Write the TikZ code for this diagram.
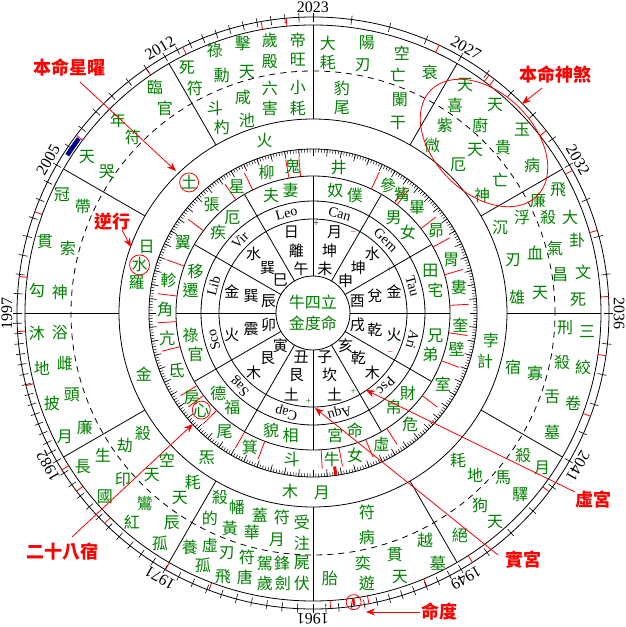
\documentclass[tikz,border=0pt]{standalone}
\usepackage{fontspec}
\setmainfont{Liberation Serif}
\newfontfamily\cjk{Noto Sans CJK TC}
\usetikzlibrary{arrows.meta}
\definecolor{grn}{RGB}{0,128,0}
\definecolor{rd}{RGB}{255,0,0}
\definecolor{bl}{RGB}{0,0,150}
\tikzset{
 gt/.style={text=grn, inner sep=0pt, font=\cjk\fontsize{16}{16}\selectfont},
 bt/.style={text=black, inner sep=0pt, font=\cjk\fontsize{15}{15}\selectfont},
 zd/.style={inner sep=0pt, font=\fontsize{14}{14}\selectfont},
 yr/.style={inner sep=0pt, font=\fontsize{16}{16}\selectfont},
 ann/.style={text=rd, inner sep=0pt, font=\cjk\bfseries\fontsize{18}{18}\selectfont},
 arr/.style={rd, line width=0.8pt, -{Stealth[length=9pt,width=7pt]}},
 mk/.style={inner sep=0pt, font=\fontsize{10}{10}\selectfont},
 ring/.style={line width=0.8pt},
 rdl/.style={rd, line width=0.8pt},
}
\def\mb{3.2,16.2,28.8,38,52.2,53.5,64.8,95.2,100.1,116.1,124.3,143.1,160,172.9,183.6,194.2,212,217,225.3,240.1,249.4,273.4,280.9,292.6,302.6,322.9,339.6,351.7}
\begin{document}
\begin{tikzpicture}[x=1pt,y=1pt]
\useasboundingbox (-313,-314) rectangle (313,313);
\fill[white] (-313,-314) rectangle (313,313);
% rings
\foreach \r in {37,94,112,137,164,194,288,296} \draw[ring] (0,0) circle (\r);
\draw[ring, dash pattern=on 6pt off 5pt] (0,0) circle (242);
\foreach \a in {0,30,...,330} {
  \draw[ring] (\a:37) -- (\a:137);
  \draw[ring] (\a:194) -- (\a:288);
}
% degree scale
\foreach \a in {0,1,...,359} \draw[line width=0.5pt] (\a:164) -- (\a:160.5);
\foreach \a in {0,5,...,355} \draw[line width=0.6pt] (\a:164) -- (\a:157);
% mansion boundaries
\foreach \a in \mb {
  \draw[rdl] (\a:137) -- (\a:156);
  \draw[rdl] (\a:288) -- (\a:296);
}
% year ticks
\foreach \s/\n in {90/4,60/5,30/4,0/5,-30/5,-60/12,-90/10,-120/11,-150/15,180/8,150/7,120/11}
  \foreach \j in {1,...,\n} \draw[line width=0.6pt] ({\s-30*(\j-1)/\n}:291) -- ({\s-30*(\j-1)/\n}:300);
\draw[bl, line width=4.5pt] (143.3:292) arc[start angle=143.3, end angle=147.3, radius=292];
\draw[rd, line width=2.5pt] (-82:288.5) -- (-82:295.5);
\draw[rd, line width=3pt] (-82:155) -- (-82:164);
\coordinate (md) at (-82:292);
\draw[rdl] (md) circle (7.5);
% year labels
\foreach \a/\y in {90/2023,60/2027,30/2032,0/2036,-30/2041,-60/1949,-90/1961,-120/1971,-150/1982,180/1997,150/2005,120/2012}
  \node[yr, rotate=\a-90] (y\y) at (\a:306) {\y};
% center
\node[gt, align=center, font=\cjk\fontsize{16}{21}\selectfont] (ctr) at (0,0) {牛四立\\金度命};
% inner ring
\foreach \a/\p/\g/\b [count=\k] in {105/日/離/午, 75/月/坤/未, 45/水/坤/申, 15/金/兌/酉, -15/火/乾/戌, -45/木/乾/亥, -75/土/坎/子, -105/土/艮/丑, -135/木/艮/寅, -165/火/震/卯, 165/金/巽/辰, 135/水/巽/巳} {
  \node[bt] (ip\k) at (\a:84) {\p};
  \node[bt] (ig\k) at (\a:64) {\g};
  \node[bt] (ib\k) at (\a:46) {\b};
}
% zodiac
\foreach \a/\t in {105/Leo, 75/Can, 45/Gem, 15/Tau, -15/Ari, -45/Psc, -75/Aqu, -105/Cap, -135/Sag, -165/Sco, 165/Lib, 135/Vir}
  \node[zd, rotate=\a-90] (z\t) at (\a:103) {\t};
\node[mk] (pm1) at (88:89) {+};
\node[mk, text=rd] (pm2) at (63.2:89) {−};
\node[mk, text=grn] (pm3) at (29.2:88) {+};
\node[mk, text=rd] (pm4) at (-27.6:87) {−};
\node[mk, text=grn] (pm5) at (-62.9:88) {+};
\node[mk, text=grn] (pm6) at (-93:89) {+};
% palace names
\foreach \a/\p/\q [count=\k] in {105/夫/妻, 75/奴/僕, 45/男/女, 15/田/宅, -15/兄/弟, -45/財/帛, -75/命/宮, -105/相/貌, -135/福/德, -165/官/祿, 165/遷/移, 135/疾/厄} {
  \node[gt] (pa\k) at ({\a+4.6}:124.5) {\p};
  \node[gt] (pb\k) at ({\a-4.6}:124.5) {\q};
}
% mansions
\foreach \a/\t [count=\k] in {80/井,97.8/鬼,108.3/柳,121/星,133.2/張,151.5/翼,167.2/軫,178.8/角,190/亢,202.8/氐,215/房,221/心,233.3/尾,244.8/箕,261.7/斗,277.3/牛,286.5/女,297.5/虛,311/危,331.4/室,346/壁,355.3/奎,9.8/婁,21.1/胃,33.7/昴,45.3/畢,53/觜,59.5/參}
  \node[gt] (m\k) at (\a:148) {\t};
% planets
\node[gt] (plHuo) at (105.7:179) {火};
\node[gt] (plTu) at (133.5:180) {土};
\node[gt] (plRi) at (158.3:179) {日};
\node[gt] (plShui) at (164.5:180) {水};
\node[gt] (plLuo) at (170.4:179) {羅};
\node[gt] (plJin) at (200:180) {金};
\node[gt] (plQi) at (233.8:180) {炁};
\node[gt] (plMu) at (262.7:180) {木};
\node[gt] (plYue) at (272.8:180) {月};
\node[gt] (plBo) at (-8.6:180) {孛};
\node[gt] (plJi) at (-15.8:179) {計};
\draw[rdl] (plTu) circle (9.5);
\draw[rdl] (plShui) circle (10);
\draw[rdl] (m12) circle (9);
% outer palace texts (pixel coordinates)
\begin{scope}[shift={(-313,313)}, yscale=-1]
\foreach \x/\y/\t [count=\k] in {
 328/43/大,328/62/耗,367/43/陽,363/65/刃,402/53/空,398/75/亡,342/88/豹,342/108/尾,400/100/闌,398/123/干,430/72/衰,
 298/40/帝,298/60/旺,298/88/小,298/108/耗,270/40/歲,270/62/殿,270/88/六,270/108/害,243/43/擊,247/72/天,243/97/咸,247/120/池,215/50/祿,222/75/勳,215/108/斗,222/127/杓,187/68/死,195/88/符,
 155/87/臨,165/108/官,118/120/年,133/137/符,87/157/天,107/172/哭,
 62/195/冠,83/207/帶,45/242/貫,68/248/索,37/290/勾,60/292/神,
 37/333/沐,60/333/浴,42/368/地,65/363/雌,52/403/披,72/395/頭,65/437/月,85/427/廉,
 83/467/長,103/455/生,143/433/殺,125/445/劫,105/497/國,123/480/印,152/475/天,167/460/空,132/522/紅,145/503/鸞,160/543/孤,172/523/辰,180/498/天,193/482/耗,
 220/497/殺,237/507/幡,210/518/的,230/528/黃,210/545/虛,227/553/刃,190/547/養,203/565/孤,223/577/飛,245/577/唐,265/583/歲,283/583/劍,302/583/伏,302/563/屍,282/563/鋒,265/563/駕,247/557/符,302/543/注,277/540/月,252/532/華,302/522/受,282/517/符,260/515/蓋,
 367/512/符,367/537/病,363/563/奕,367/583/遊,330/578/胎,395/555/貫,400/577/天,425/540/越,438/563/墓,
 458/460/耗,475/475/地,480/505/狗,495/522/天,460/535/絕,503/478/馬,520/495/驛,
 523/455/殺,542/468/月,552/432/墓,552/397/舌,573/403/卷,562/362/殺,583/367/絞,565/328/刑,587/332/三,513/367/宿,535/373/寡,
 578/300/死,560/275/昌,583/272/文,555/248/氣,577/240/卦,548/217/殺,570/217/大,535/253/血,513/260/刃,517/297/雄,540/293/天,500/227/沉,522/217/浮,538/200/廉,558/190/飛,
 465/85/天,455/105/喜,495/105/天,445/125/紫,480/125/廚,522/130/玉,432/145/微,475/150/天,503/147/貴,458/165/厄,532/165/病,500/180/亡,482/195/神}
  \node[gt] (s\k) at (\x,\y) {\t};
% annotations
\node[ann] (a1) at (70,68) {本命星曜};
\coordinate (a1s) at (80,82); \coordinate (a1e) at (176,171);
\draw[arr] (a1s) -- (a1e);
\node[ann] (a2) at (555,75) {本命神煞};
\coordinate (a2s) at (542,88); \coordinate (a2e) at (522,104);
\draw[arr] (a2s) -- (a2e);
\coordinate (elc) at (484,143);
\draw[rdl, rotate around={45:(elc)}] (elc) ellipse [x radius=75, y radius=50];
\node[ann] (a3) at (113,222) {逆行};
\coordinate (a3s) at (122,230); \coordinate (a3e) at (131,247);
\draw[arr] (a3s) -- (a3e);
\node[ann] (a4) at (63,552) {二十八宿};
\coordinate (a4s) at (72,537); \coordinate (a4e) at (193,424);
\draw[arr] (a4s) -- (a4e);
\node[ann] (a5) at (593,500) {虛宮};
\coordinate (a5s) at (575,492); \coordinate (a5e) at (366,390);
\draw[arr] (a5s) -- (a5e);
\node[ann] (a6) at (523,560) {實宮};
\coordinate (a6s) at (498,555); \coordinate (a6e) at (315,408);
\draw[arr] (a6s) -- (a6e);
\node[ann] (a7) at (440,612) {命度};
\coordinate (a7s) at (420,612); \coordinate (a7e) at (366,612);
\draw[arr] (a7s) -- (a7e);
\end{scope}
\end{tikzpicture}
\end{document}
